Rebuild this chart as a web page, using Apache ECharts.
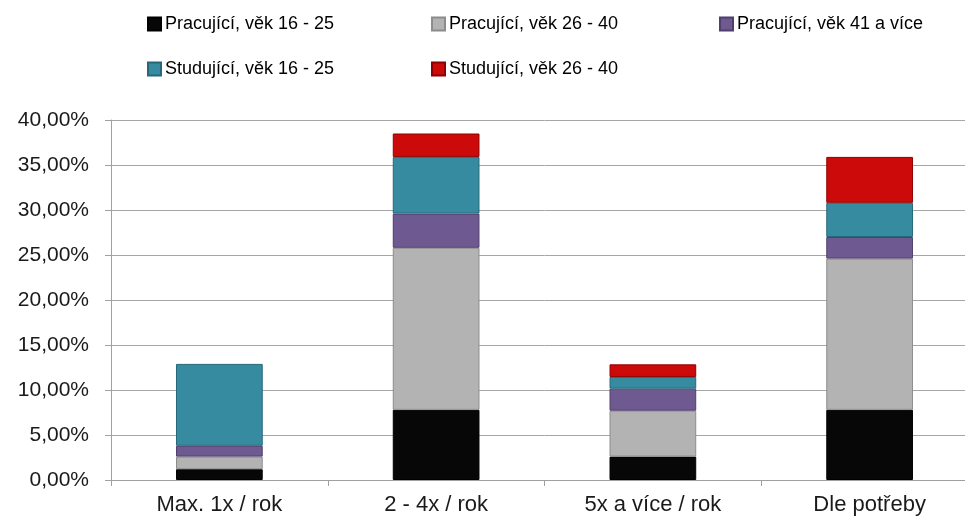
<!DOCTYPE html>
<html>
<head>
<meta charset="utf-8">
<script src="https://cdn.jsdelivr.net/npm/echarts@6/dist/echarts.min.js"></script>
<style>html,body{margin:0;padding:0;background:#fff;overflow:hidden}#c{width:979px;height:524px}</style>
</head>
<body>
<div id="c"></div>
<script>
const categories = ['Max. 1x / rok', '2 - 4x / rok', '5x a více / rok', 'Dle potřeby'];
const seriesNames = ['Pracující, věk 16 - 25', 'Pracující, věk 26 - 40', 'Pracující, věk 41 a více', 'Studující, věk 16 - 25', 'Studující, věk 26 - 40'];
const prac16_25 = [1.2, 7.8, 2.6, 7.8];
const prac26_40 = [1.4, 18.0, 5.1, 16.8];
const prac41 = [1.2, 3.8, 2.45, 2.4];
const stud16_25 = [9.1, 6.3, 1.3, 3.8];
const stud26_40 = [0, 2.6, 1.4, 5.1];
const yTicks = { min: 0, max: 40, interval: 5 };

const colors = ['#070707', '#b3b3b3', '#6e5a91', '#378ba1', '#cc0a0a'];
const borders = ['#000000', '#8c8c8c', '#4f3f6b', '#26677a', '#8f0000'];
const values = [prac16_25, prac26_40, prac41, stud16_25, stud26_40];
const font = 'Liberation Sans';

const chart = echarts.init(document.getElementById('c'));
const series = seriesNames.map((n, i) => ({
  name: n,
  type: 'bar',
  stack: 'total',
  barCategoryGap: '60%',
  data: values[i].map(v => v === 0 ? '-' : v),
  itemStyle: { color: colors[i], borderColor: borders[i], borderWidth: 1 }
}));
function legendCol(left, names) {
  return {
    left: left, top: 14, orient: 'vertical', itemGap: 25, padding: 0,
    itemWidth: 13, itemHeight: 13, icon: 'rect',
    data: names,
    textStyle: { fontFamily: font, fontSize: 18, color: '#000', lineHeight: 20, padding: [0, 0, 0, -1] },
    selectedMode: false
  };
}
chart.setOption({
  animation: false,
  color: colors,
  legend: [
    legendCol(147, [seriesNames[0], seriesNames[3]]),
    legendCol(431, [seriesNames[1], seriesNames[4]]),
    legendCol(719, [seriesNames[2]])
  ],
  grid: { left: 111, top: 120, right: 1, bottom: 44 },
  xAxis: {
    type: 'category', data: categories,
    axisLine: { lineStyle: { color: '#a0a0a0', width: 1 } },
    axisTick: { show: true, length: 6, lineStyle: { color: '#a0a0a0' } },
    axisLabel: { fontFamily: font, fontSize: 22, color: '#1a1a1a', margin: 14 }
  },
  yAxis: {
    type: 'value', min: yTicks.min, max: yTicks.max, interval: yTicks.interval,
    axisLine: { show: true, lineStyle: { color: '#a0a0a0', width: 1 } },
    axisTick: { show: true, length: 6, lineStyle: { color: '#a0a0a0' } },
    splitLine: { lineStyle: { color: '#a6a6a6', width: 1 } },
    axisLabel: {
      fontFamily: font, fontSize: 21, color: '#1a1a1a', margin: 22,
      formatter: v => v.toFixed(2).replace('.', ',') + '%'
    }
  },
  series: series
});
</script>
</body>
</html>
